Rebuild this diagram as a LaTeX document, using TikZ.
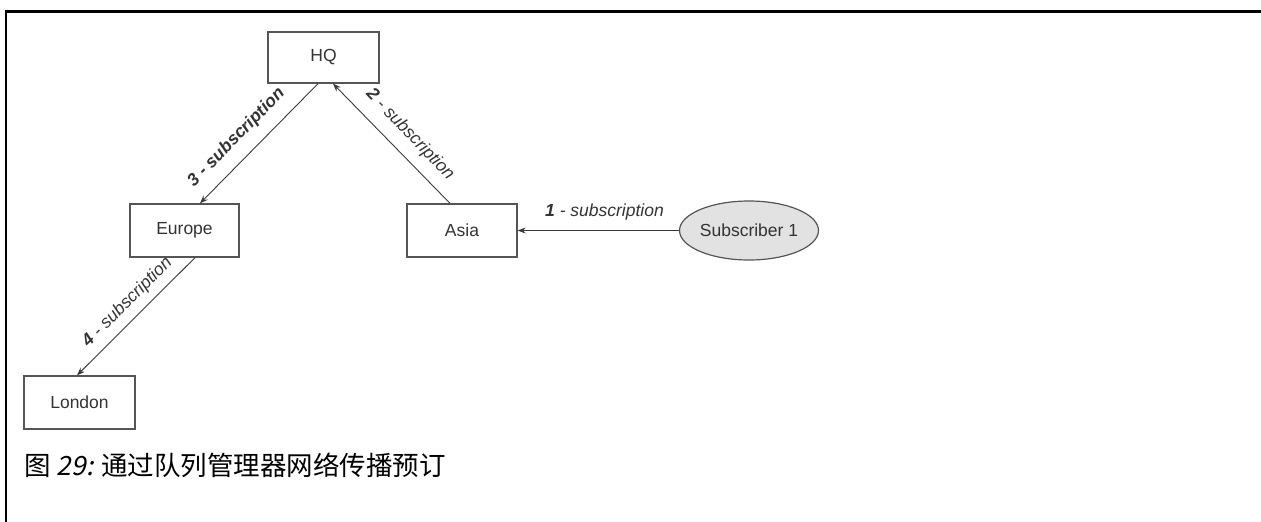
\documentclass[tikz,border=0pt]{standalone}
\usepackage{fontspec}
\setmainfont{Liberation Sans}
\newfontfamily\cjk{Noto Sans CJK SC}
\newfontfamily\cjkit{Noto Sans CJK SC}[FakeSlant=0.2]
\usetikzlibrary{shapes.geometric,arrows.meta}
\definecolor{boxline}{HTML}{555555}
\definecolor{txt}{HTML}{333333}
\definecolor{arr}{HTML}{3a3a3a}
\definecolor{subfill}{HTML}{E2E2E2}
\tikzset{
  qbox/.style={draw=boxline,line width=1.3pt,rectangle,inner sep=0pt,text=txt,font=\fontsize{17.5}{20}\selectfont},
  subell/.style={draw=boxline,line width=1.2pt,ellipse,inner sep=0pt,fill=subfill,text=txt,font=\fontsize{17.5}{20}\selectfont},
  conn/.style={draw=arr,line width=0.9pt,-{Stealth[length=8pt,width=6pt]}},
  lbl/.style={inner sep=0pt,text=txt,font=\fontsize{17.5}{20}\selectfont\itshape},
  frameline/.style={line width=2.4pt,black}
}
\begin{document}
\begin{tikzpicture}[x=1pt,y=-1pt]
\useasboundingbox (0,0) rectangle (1261,522);
\draw[frameline] (6,11.3) -- (1261,11.3);
\draw[frameline] (6,10.1) -- (6,522);
\node[qbox,minimum width=111pt,minimum height=51pt] (hq) at (323.5,57.5) {HQ};
\node[qbox,minimum width=109pt,minimum height=53pt] (eu) at (184.5,230.5) {Europe};
\node[qbox,minimum width=110pt,minimum height=53pt] (as) at (462,230.5) {Asia};
\node[qbox,minimum width=111pt,minimum height=53pt] (lo) at (79.5,402.5) {London};
\node[subell,minimum width=128pt,minimum height=59pt] (sub) at (749,230.5) {Subscriber 1};
\draw[conn] (sub.west) -- (as.east);
\draw[conn] ([xshift=-12pt]as.north) -- ([xshift=9.5pt]hq.south);
\draw[conn] ([xshift=-5.5pt]hq.south) -- ([xshift=15.5pt]eu.north);
\draw[conn] ([xshift=10.5pt]eu.south) -- ([xshift=-2.5pt]lo.north);
\node[lbl] (l1) at (604.5,212) {\textbf{1} - subscription};
\node[lbl,rotate=-46] (l2) at (410,134.5) {\textbf{2} - subscription};
\node[lbl,font=\fontsize{17.5}{20}\selectfont\itshape\bfseries,rotate=45.7] (l3) at (236.5,137.5) {3 - subscription};
\node[lbl,rotate=45] (l4) at (127.5,302.5) {\textbf{4} - subscription};
\node[anchor=west,inner sep=0pt,text=black,font=\fontsize{26.5}{30}\selectfont] (cap) at (24,465) {\cjk 图 {\cjkit 29:} 通过队列管理器网络传播预订};
\end{tikzpicture}
\end{document}
